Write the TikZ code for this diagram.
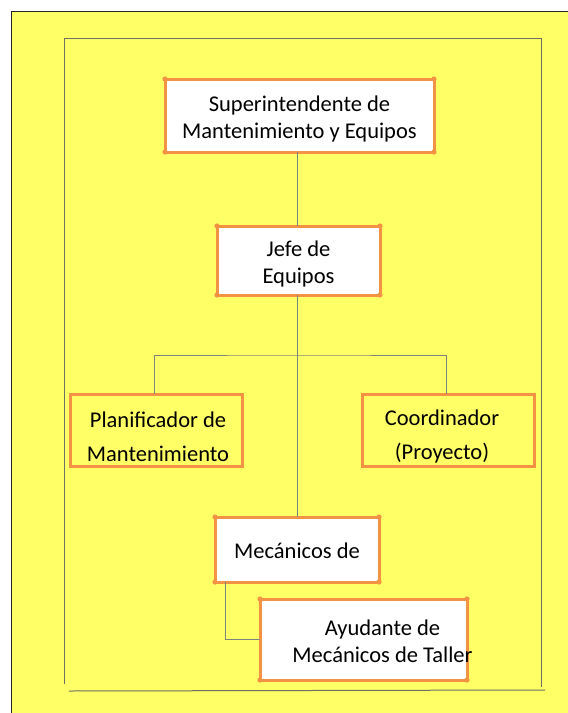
\documentclass[tikz,border=0pt]{standalone}
\usepackage{fontspec}
\setmainfont{Carlito}
\definecolor{boxorange}{RGB}{244,146,68}
\definecolor{paper}{RGB}{255,255,102}
\definecolor{linegray}{RGB}{124,134,124}
\definecolor{framegray}{RGB}{110,112,100}
\begin{document}
\begin{tikzpicture}[
        x=1pt, y=-1pt,
        post/.style={draw=boxorange, line width=3pt, fill=white, outer sep=0pt, inner sep=0pt},
        openpost/.style={post, fill=none},
        lbl/.style={align=center, inner sep=0pt, font=\fontsize{22.5}{27}\selectfont},
        widelbl/.style={lbl, font=\fontsize{22.5}{34}\selectfont},
        link/.style={draw=linegray, line width=0.9pt}
    ]
        \useasboundingbox (0,0) rectangle (568,713);
        \fill[white] (0,0) rectangle (568,713);

        % Yellow sheet and inner frame
        \fill[paper] (11,11) rectangle (568,713);
        \draw[black!85, line width=0.9pt] (11,713) -- (11,11) -- (568,11);
        \draw[framegray, line width=1pt] (64,684) -- (64,38) -- (541,38) -- (541,687);
        \draw[framegray, line width=1pt] (69,691) -- (545,690);

        % Boxes
        \node[post, minimum width=269pt, minimum height=73pt] (super) at (299.5,115.5) {};
        \node[post, minimum width=163pt, minimum height=69pt] (jefe) at (298.5,260.5) {};
        \node[openpost, minimum width=172pt, minimum height=72pt] (plan) at (156,430) {};
        \node[openpost, minimum width=172pt, minimum height=72pt] (coord) at (448,430) {};
        \node[post, minimum width=164pt, minimum height=65pt] (mec) at (297,549.5) {};
        \node[post, minimum width=207pt, minimum height=81pt] (ayud) at (363.5,639.5) {};

        % Connectors
        \coordinate (split) at (297,355);
        \draw[link] (super.south -| split) -- (jefe.north -| split);
        \draw[link] (jefe.south -| split) -- (mec.north -| split);
        \draw[link] ([xshift=-2pt]plan.north) |- (split) -| ([xshift=-2pt]coord.north);
        \draw[link] ([xshift=10pt]mec.south west) |- (ayud.west);

        % Corner dots
        \foreach \n in {super,jefe,mec,ayud}
            \foreach \c in {north west,north east,south west,south east}
                \fill[boxorange] (\n.\c) circle (2.6pt);

        % Texts
        \node[lbl] (supertxt) at ([yshift=-3pt]super.center) {Superintendente de\\Mantenimiento y Equipos};
        \node[lbl] (jefetxt) at ([yshift=-3.5pt]jefe.center) {Jefe de\\Equipos};
        \node[widelbl] (plantxt) at ([xshift=2pt, yshift=-6.5pt]plan.center) {Planificador de\\Mantenimiento};
        \node[widelbl] (coordtxt) at ([xshift=-6pt, yshift=-6.5pt]coord.center) {Coordinador\\(Proyecto)};
        \node[lbl] (mectxt) at ([yshift=-1pt]mec.center) {Mec\'anicos de};
        \node[lbl] (ayudtxt) at ([xshift=19pt, yshift=-1.5pt]ayud.center) {Ayudante de\\Mec\'anicos de Taller};
    \end{tikzpicture}
\end{document}
